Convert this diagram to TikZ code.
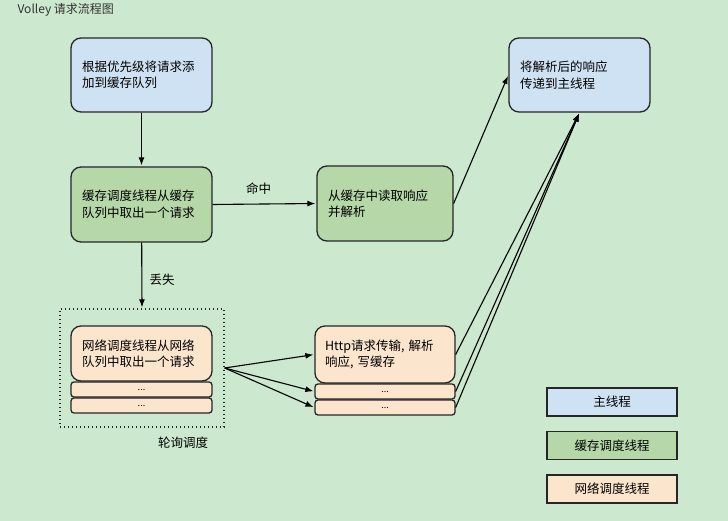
\documentclass[tikz,border=0pt]{standalone}
\usepackage{fontspec}
\usetikzlibrary{arrows.meta}
\setmainfont{Noto Sans CJK SC}
\definecolor{bgcolor}{HTML}{CCE8CF}
\definecolor{mainblue}{HTML}{CFE2F3}
\definecolor{cachegreen}{HTML}{B6D7A8}
\definecolor{netpeach}{HTML}{FCE5CD}

\begin{document}
\begin{tikzpicture}[x=1pt,y=-1pt,shorten >=1pt,-]
                \tikzstyle{block}=[draw=black!85,line width=1.3pt,rounded corners=10pt,inner sep=0pt,align=left,font=\fontsize{12.5}{16.5}\selectfont]
                \tikzstyle{slot}=[draw=black!85,line width=1.3pt,rounded corners=3pt,fill=netpeach,minimum width=141pt,minimum height=15pt,inner sep=0pt,font=\fontsize{9}{9}\selectfont]
                \tikzstyle{legend}=[draw=black!85,line width=1.3pt,minimum width=130pt,minimum height=28pt,inner sep=0pt,font=\fontsize{12.5}{15}\selectfont]
                \tikzstyle{flow}=[-{Latex[length=8pt,width=6pt]},line width=1.1pt,black]
                \fill[bgcolor] (0,0) rectangle (728,521);
                \useasboundingbox (0,0) rectangle (728,521);

                \node[anchor=north west,text=black!80,font=\fontsize{12}{14}\selectfont] (title) at (14,0) {Volley 请求流程图};

                \node[block,fill=mainblue,minimum width=141pt,minimum height=74pt,text width=119pt] (enqueue) at (141.5,75) {根据优先级将请求添\\加到缓存队列};
                \node[block,fill=cachegreen,minimum width=141pt,minimum height=75pt,text width=119pt] (cache) at (141.5,204.5) {缓存调度线程从缓存\\队列中取出一个请求};
                \node[block,fill=cachegreen,minimum width=136pt,minimum height=75pt,text width=114pt] (read) at (385,203.5) {从缓存中读取响应\\并解析};
                \node[block,fill=mainblue,minimum width=141pt,minimum height=74pt,text width=119pt] (deliver) at (579.5,75) {将解析后的响应\\传递到主线程};

                \node[draw=black!85,line width=1.3pt,dash pattern=on 1.3pt off 2.7pt,minimum width=164pt,minimum height=118pt] (poll) at (142,368) {};
                \node (pollnote) at (183,443) {\fontsize{12.5}{15}\selectfont 轮询调度};
                \node[block,fill=netpeach,minimum width=141pt,minimum height=55pt,text width=119pt] (netpick) at (141.5,353.5) {网络调度线程从网络\\队列中取出一个请求};
                \foreach \num/\y in {1/389.5, 2/405.5}
                    \node[slot] (netslot-\num) at (141.5,\y) {...};

                \node[block,fill=netpeach,minimum width=140pt,minimum height=57pt,text width=120pt] (http) at (385,354.5) {Http请求传输, 解析\\响应, 写缓存};
                \foreach \num/\y in {1/391.5, 2/407.5}
                    \node[slot,minimum width=140pt] (httpslot-\num) at (385,\y) {...};

                \draw[flow] (enqueue) -- (cache);
                \draw[flow] (cache.east) -- node[above=6pt,xshift=-6pt,font=\fontsize{12.5}{15}\selectfont] {命中} (read.west);
                \draw[flow] (cache) -- node[right=4pt,yshift=-4pt,font=\fontsize{12.5}{15}\selectfont] {丢失} (poll.north);
                \draw[flow] (read.east) -- (deliver.west);
                \foreach \to in {http, httpslot-1, httpslot-2}
                    \draw[flow] (poll.east) -- (\to.west);
                \foreach \from in {http, httpslot-1, httpslot-2}
                    \draw[flow] (\from.east) -- (deliver.south);

                \foreach \name/\col/\y/\txt in {mainkey/mainblue/402/主线程, cachekey/cachegreen/445.5/缓存调度线程, netkey/netpeach/489/网络调度线程}
                    \node[legend,fill=\col] (\name) at (612,\y) {\txt};
            \end{tikzpicture}
\end{document}
